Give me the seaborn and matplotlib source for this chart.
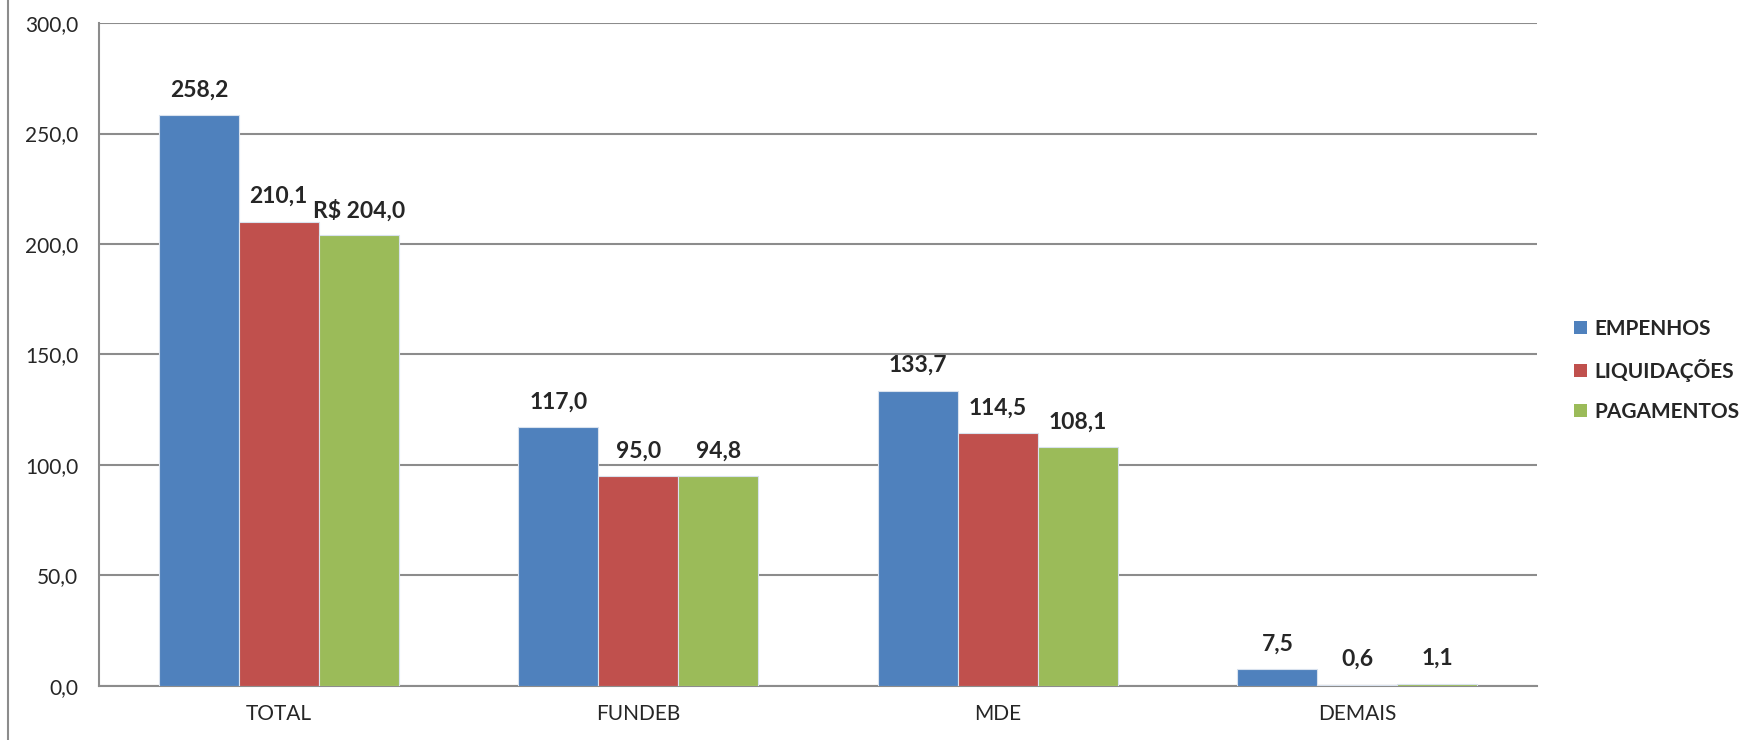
import matplotlib
matplotlib.use("Agg")
import matplotlib.pyplot as plt
import seaborn as sns
import pandas as pd
from matplotlib.lines import Line2D

# dados (R$ milhões)
categorias = ["TOTAL", "FUNDEB", "MDE", "DEMAIS"]
empenhos = [258.2, 117.0, 133.7, 7.5]
liquidacoes = [210.1, 95.0, 114.5, 0.6]
pagamentos = [204.0, 94.8, 108.1, 1.1]
series = ["EMPENHOS", "LIQUIDAÇÕES", "PAGAMENTOS"]
cores = ["#4F81BD", "#C0504D", "#9BBB59"]
yticks = [0, 50, 100, 150, 200, 250, 300]

df = pd.DataFrame({
    "categoria": categorias * 3,
    "serie": [series[0]] * 4 + [series[1]] * 4 + [series[2]] * 4,
    "valor": empenhos + liquidacoes + pagamentos,
})

sns.set_style("white")
plt.rcParams["font.family"] = ["Lato", "DejaVu Sans"]

fig = plt.figure(figsize=(17.4, 7.4), dpi=100)
ax = fig.add_axes([0.0569, 0.073, 0.8264, 0.8959])

sns.barplot(data=df, x="categoria", y="valor", hue="serie", order=categorias,
            hue_order=series, palette=cores, width=2 / 3, saturation=1,
            edgecolor="#d9e2ee", linewidth=0.8, ax=ax, zorder=3)

ax.set_ylim(0, 300)
ax.set_xlim(-0.5, 3.5)
ax.set_yticks(yticks)
ax.set_yticklabels([f"{v:.1f}".replace(".", ",") for v in yticks], fontsize=15)
ax.tick_params(axis="y", length=0, pad=15)
ax.tick_params(axis="x", length=0, pad=13, labelsize=15)
ax.set_xlabel("")
ax.set_ylabel("")
ax.yaxis.grid(True, color="#8c8c8c", linewidth=1.5, zorder=0)
ax.set_axisbelow(True)
for s in ["top", "right"]:
    ax.spines[s].set_visible(False)
for s in ["left", "bottom"]:
    ax.spines[s].set_color("#8c8c8c")
    ax.spines[s].set_linewidth(1.5)

# rótulos de valores
for i, cont in enumerate(ax.containers):
    for j, bar in enumerate(cont):
        v = bar.get_height()
        txt = f"{v:.1f}".replace(".", ",")
        if i == 2 and j == 0:
            txt = "R$ " + txt
        ax.annotate(txt, (bar.get_x() + bar.get_width() / 2, v),
                    xytext=(0, 18), textcoords="offset points",
                    ha="center", va="center", fontsize=16.5, fontweight="bold")

leg = ax.legend(loc="center left", bbox_to_anchor=(1.026, 0.476), frameon=False,
                prop={"size": 15, "weight": "bold"}, handlelength=0.6,
                handleheight=0.6, handletextpad=0.35, labelspacing=0.95,
                borderpad=0, borderaxespad=0)
for h in leg.legend_handles:
    h.set_edgecolor("none")

# linha vertical na borda esquerda
fig.add_artist(Line2D([0.0046, 0.0046], [0, 1], color="#8c8c8c", linewidth=1.5,
                      transform=fig.transFigure))

fig.savefig("out.png", dpi=100)
